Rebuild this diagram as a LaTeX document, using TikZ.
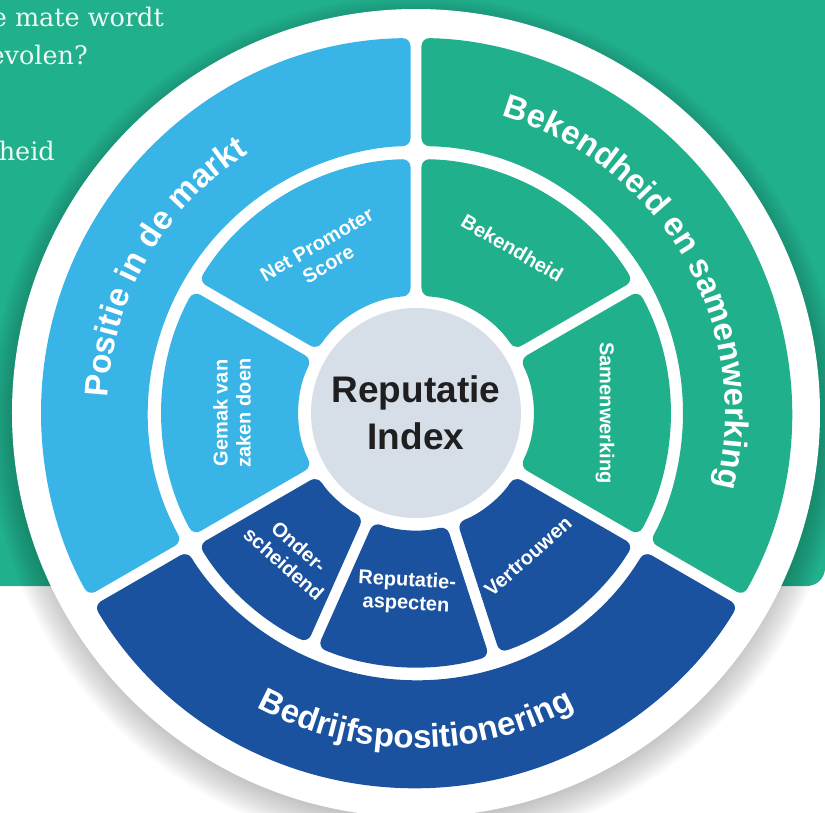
\documentclass[tikz,border=0pt]{standalone}
\usepackage{fontspec}
\setmainfont{Liberation Sans}
\newfontfamily\introfont{DejaVu Serif}
\usetikzlibrary{decorations.text}
\definecolor{bggreen}{RGB}{33,176,140}
\definecolor{skyblue}{RGB}{56,180,230}
\definecolor{deepblue}{RGB}{27,82,160}
\definecolor{coregray}{RGB}{214,222,232}
\tikzset{
  introtext/.style={text=white, opacity=0.92, inner sep=0pt, anchor=base east, font=\introfont\fontsize{25.5}{30}\selectfont},
  segtext/.style={text=white, align=center, inner sep=0pt, font=\bfseries\fontsize{20}{23}\selectfont},
  bandtext/.style={decorate, decoration={text along path, text align=center, text color=white,
    text={|\bfseries\fontsize{33}{33}\selectfont|#1}}},
}
% start angle, end angle, inner radius, outer radius, colour
\newcommand\ringpart[5]{%
  \pgfmathsetmacro\ao{#1+asin(5.5/#4)}%
  \pgfmathsetmacro\bo{#2-asin(5.5/#4)}%
  \pgfmathsetmacro\ai{#1+asin(5.5/#3)}%
  \pgfmathsetmacro\bi{#2-asin(5.5/#3)}%
  \fill[#5, rounded corners=8pt] (\ao:#4) arc[start angle=\ao, end angle=\bo, radius=#4]
    -- (\bi:#3) arc[start angle=\bi, end angle=\ai, radius=#3] -- cycle;
}
\begin{document}
\begin{tikzpicture}[x=1pt,y=1pt]
  \useasboundingbox (-416,-399) rectangle (409,413);
  \clip (-416,-399) rectangle (409,413);
  \fill[bggreen, rounded corners=18pt] (-440,-173) rectangle (409,440);
  \node[introtext] (line1) at (-252,386) {e mate wordt};
  \node[introtext] (line2) at (-328,348) {evolen?};
  \node[introtext] (line3) at (-361,253) {heid};
  % soft shadow under the disc
  \foreach \k in {1,...,14}
    \fill[black, opacity=0.018] (0,-10) circle[radius=392+2.5*\k];
  \fill[white] (0,0) circle[radius=404];
  \ringpart{90}{210}{267}{375}{skyblue}
  \ringpart{210}{330}{267}{375}{deepblue}
  \ringpart{-30}{90}{267}{375}{bggreen}
  \ringpart{90}{150}{117}{254}{skyblue}
  \ringpart{150}{210}{117}{254}{skyblue}
  \ringpart{210}{246}{117}{254}{deepblue}
  \ringpart{246}{288}{117}{254}{deepblue}
  \ringpart{288}{330}{117}{254}{deepblue}
  \ringpart{-30}{30}{117}{254}{bggreen}
  \ringpart{30}{90}{117}{254}{bggreen}
  \fill[coregray] (0,0) circle[radius=105];
  \node[align=center, text=black!88, font=\bfseries\fontsize{37}{47}\selectfont] (core) at (0,0) {Reputatie\\Index};
  \path[bandtext={Positie in de markt}] (210:309) arc[start angle=210, end angle=90, radius=309];
  \path[bandtext={Bekendheid en samenwerking}] (90:309) arc[start angle=90, end angle=-30, radius=309];
  \path[bandtext={Bedrijfspositionering}] (210:335) arc[start angle=210, end angle=330, radius=335];
  \node[segtext, rotate=30] (nps) at (120.5:184) {Net Promoter\\Score};
  \node[segtext, rotate=90] (gemak) at (180:184) {Gemak van\\zaken doen};
  \node[segtext, rotate=-30] (bekend) at (59.7:191) {Bekendheid};
  \node[segtext, rotate=-90] (samen) at (0:189) {Samenwerking};
  \node[segtext, rotate=-41.5] (onder) at (228.8:189) {Onder-\\scheidend};
  \node[segtext, rotate=-3] (aspect) at (267:180) {Reputatie-\\aspecten};
  \node[segtext, rotate=41.5] (vertr) at (308:182) {Vertrouwen};
\end{tikzpicture}
\end{document}
